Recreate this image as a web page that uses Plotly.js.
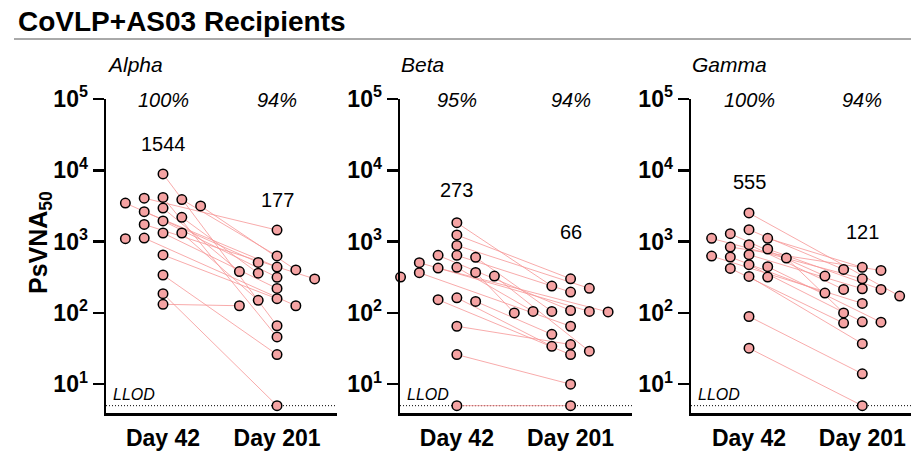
<!DOCTYPE html>
<html>
<head>
<meta charset="utf-8">
<script src="https://cdn.plot.ly/plotly-3.0.1.min.js"></script>
<style>html,body{margin:0;padding:0;background:#fff;}</style>
</head>
<body>
<div id="chart" style="width:911px;height:455px;"></div>
<script>
// ---------------- data ----------------
const days = ['Day 42', 'Day 201'];
const variantNames = ['Alpha', 'Beta', 'Gamma'];

// paired titers, one entry per participant (null = no sample)
const alphaDay42  = [8900, 4170, 4070, 3890, 3470, 3160, 2950, 2630, 2190, 1950, 1740, 1320, 1320, 1120, 1100, 650, 340, 186, 132];
const alphaDay201 = [66, 46, 1450, 630, 510, 400, 380, 440, 360, 316, 300, 220, 150, 126, null, 158, 26, 5, 126];

const betaDay42  = [1840, 1240, 885, 641, 641, 601, 506, 435, 426, 370, 366, 329, 318, 163, 153, 145, 65, 26, 5];
const betaDay201 = [238, 301, 221, 196, 108, 105, 105, 105, 103, 100, 65, 29, null, 34, 26, 50, 36, 10, 5];

const gammaDay42  = [2520, 1470, 1290, 1110, 1110, 906, 839, 787, 655, 627, 607, 587, 474, 445, 421, 325, 318, 89, 32];
const gammaDay201 = [172, 407, 329, 435, 301, 213, 394, 213, 218, 136, 190, 100, 75, 74, 72, 37, null, 14, 5];

const alphaGMT = [1544, 177];
const betaGMT  = [273, 66];
const gammaGMT = [555, 121];

const alphaResp = ['100%', '94%'];
const betaResp  = ['95%', '94%'];
const gammaResp = ['100%', '94%'];

const yTickVals = [10, 100, 1000, 10000, 100000];
const yTickText = ['10<sup>1</sup>', '10<sup>2</sup>', '10<sup>3</sup>', '10<sup>4</sup>', '10<sup>5</sup>'];
const LLOD = 5;

// ---------------- styling ----------------
const F = 'Liberation Sans, Arial, sans-serif';
const FILL = '#F5A3A3';
const LINK = 'rgba(246,150,150,0.8)';
const STEP = 0.165;   // horizontal jitter step (x-axis units)
const GAP = 0.14;     // min vertical separation (decades) inside a column

const panels = [
  {d42: alphaDay42, d201: alphaDay201, gmt: alphaGMT, resp: alphaResp, name: variantNames[0],
   dom: [106, 337], range: [-0.5, 1.526], gmtY: [4.37, 3.59]},
  {d42: betaDay42, d201: betaDay201, gmt: betaGMT, resp: betaResp, name: variantNames[1],
   dom: [400, 632], range: [-0.5, 1.54], gmtY: [3.73, 3.13]},
  {d42: gammaDay42, d201: gammaDay201, gmt: gammaGMT, resp: gammaResp, name: variantNames[2],
   dom: [691, 911], range: [-0.512, 1.43], gmtY: [3.83, 3.14]}
];

function swarm(vals) {
  const idx = vals.map((v, i) => i).filter(i => vals[i] != null)
    .sort((a, b) => vals[b] - vals[a]);
  const placed = [];
  const off = vals.map(() => null);
  const cands = [0, -1, 1, -2, 2, -3, 3, -4, 4];
  idx.forEach(i => {
    const lv = Math.log10(vals[i]);
    for (const c of cands) {
      if (!placed.some(p => p.c === c && Math.abs(p.lv - lv) < GAP - 1e-9)) {
        off[i] = c * STEP; placed.push({c, lv}); break;
      }
    }
  });
  return off;
}

const W = 911, H = 455;
const yDom = [(H - 413) / H, (H - 99) / H];
const traces = [];
const annotations = [];
const layout = {
  width: W, height: H,
  margin: {l: 0, r: 0, t: 0, b: 0},
  paper_bgcolor: 'white', plot_bgcolor: 'white',
  showlegend: false,
  font: {family: F, color: 'black'},
  title: {text: 'CoVLP+AS03 Recipients', x: 18 / W, xanchor: 'left', xref: 'paper',
          y: 1 - 21 / H, yanchor: 'middle', yref: 'paper',
          font: {family: F, size: 28, color: 'black', weight: 'bold'}},
  shapes: [{type: 'line', xref: 'paper', yref: 'paper', x0: 14 / W, x1: 1,
            y0: 1 - 39 / H, y1: 1 - 39 / H, line: {color: '#555', width: 1}}],
  annotations: annotations
};

panels.forEach((p, k) => {
  const sfx = k === 0 ? '' : String(k + 1);
  const xa = 'x' + sfx, ya = 'y' + sfx;
  const o42 = swarm(p.d42), o201 = swarm(p.d201);

  // LLOD dotted line
  traces.push({x: [p.range[0], p.range[1]], y: [LLOD, LLOD], xaxis: xa, yaxis: ya,
    mode: 'lines', line: {color: 'black', width: 1, dash: '1px,2px'}, hoverinfo: 'skip', cliponaxis: false});

  // paired connecting lines
  const lx = [], ly = [];
  p.d42.forEach((v, i) => {
    if (v != null && p.d201[i] != null) {
      lx.push(0 + o42[i], 1 + o201[i], null);
      ly.push(v, p.d201[i], null);
    }
  });
  traces.push({x: lx, y: ly, xaxis: xa, yaxis: ya, mode: 'lines',
    line: {color: LINK, width: 1}, hoverinfo: 'skip', connectgaps: false, cliponaxis: false});

  // points
  const mk = {size: 9.5, color: FILL, line: {color: 'black', width: 1.5}};
  const x42 = [], y42 = [], x201 = [], y201 = [];
  p.d42.forEach((v, i) => { if (v != null) { x42.push(0 + o42[i]); y42.push(v); } });
  p.d201.forEach((v, i) => { if (v != null) { x201.push(1 + o201[i]); y201.push(v); } });
  traces.push({x: x42, y: y42, xaxis: xa, yaxis: ya, mode: 'markers', marker: mk, name: days[0], cliponaxis: false});
  traces.push({x: x201, y: y201, xaxis: xa, yaxis: ya, mode: 'markers', marker: mk, name: days[1], cliponaxis: false});

  layout['xaxis' + sfx] = {
    domain: [p.dom[0] / W, p.dom[1] / W], range: p.range, anchor: ya,
    tickvals: [0, 1], ticktext: days, ticks: '', showline: true, linewidth: 3, linecolor: 'black',
    showgrid: false, zeroline: false, ticklabelstandoff: 2,
    tickfont: {family: F, size: 23, color: 'black', weight: 'bold'}
  };
  layout['yaxis' + sfx] = {
    type: 'log', domain: yDom, range: [0.596, 5], anchor: xa,
    tickvals: yTickVals, ticktext: yTickText, ticks: 'outside', ticklen: 11, tickwidth: 2.5,
    tickcolor: 'black', showline: true, linewidth: 2.5, linecolor: 'black',
    showgrid: false, zeroline: false,
    tickfont: {family: F, size: 23, color: 'black', weight: 'bold'}
  };

  // variant title
  annotations.push({xref: 'paper', yref: 'paper', x: (p.dom[0] - 1) / W, y: 1 - 65 / H,
    xanchor: 'left', yanchor: 'middle', showarrow: false, text: '<i>' + p.name + '</i>',
    font: {family: F, size: 21, color: 'black'}});
  // responder percentages + GMT labels
  [0, 1].forEach(j => {
    annotations.push({xref: xa, yref: ya, x: j, y: 4.98, xanchor: 'center', yanchor: 'middle',
      showarrow: false, text: '<i>' + p.resp[j] + '</i>', font: {family: F, size: 20, color: 'black'}});
    annotations.push({xref: xa, yref: ya, x: j, y: p.gmtY[j], xanchor: 'center', yanchor: 'middle',
      showarrow: false, text: String(p.gmt[j]), font: {family: F, size: 20, color: 'black'}});
  });
  // LLOD label
  annotations.push({xref: xa, yref: ya, x: p.range[0] + 0.04, y: Math.log10(LLOD) + 0.01,
    xanchor: 'left', yanchor: 'bottom', showarrow: false, text: '<i>LLOD</i>',
    font: {family: F, size: 16, color: 'black'}});
});

// y-axis title
annotations.push({xref: 'paper', yref: 'paper', x: 40 / W, y: 1 - 243 / H, xanchor: 'center', yanchor: 'middle',
  showarrow: false, textangle: -90, text: 'PsVNA<sub>50</sub>',
  font: {family: F, size: 25, color: 'black', weight: 'bold'}});

Plotly.newPlot('chart', traces, layout, {staticPlot: true, displayModeBar: false});
</script>
</body>
</html>
